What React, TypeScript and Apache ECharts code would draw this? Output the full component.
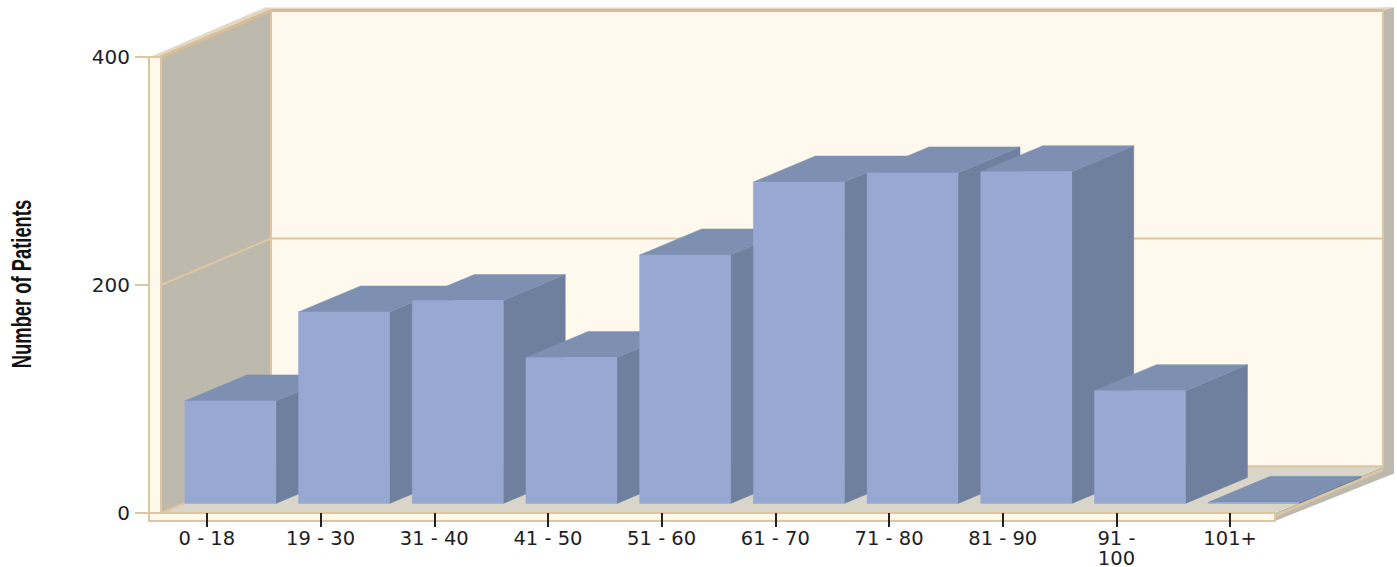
import React, { useEffect, useRef } from "react";
import * as echarts from "echarts";

const categories = ["0 - 18", "19 - 30", "31 - 40", "41 - 50", "51 - 60", "61 - 70", "71 - 80", "81 - 90", "91 -\n100", "101+"];
const patients = [90, 168, 178, 128, 218, 282, 290, 291, 99, 1];
const yTicks = [0, 200, 400];
const gridLineValues = [200];
const yAxisTitle = "Number of Patients";

const CREAM = "#fff8ec";
const TAN = "#dfc6a2";
const TAN_DARK = "#d8bd96";
const WALL = "#bdb9ad";
const FLOOR = "#d9d5c8";
const TOP_BAND = "#e3d8c6";
const FRONT = "#97a9d3";
const TOP = "#7d90b2";
const SIDE = "#6f7f9e";

// Pseudo-3D projection, in pixels
const WALL_DX = 110;
const WALL_DY = -46.5;
const BAR_OFFSET_X = 23.5;
const BAR_OFFSET_Y = -9.5;
const BAR_DX = 62;
const BAR_DY = -26;
const BAR_RATIO = 0.8;
const PLINTH = 11;
const PLINTH_H = 8;

function poly(points: number[][], fill: string, stroke?: string, lineWidth?: number) {
  return {
    type: "polygon",
    shape: { points },
    style: { fill, stroke: stroke || "none", lineWidth: lineWidth || 0 },
    silent: true,
  };
}
function line(points: number[][], stroke: string, lineWidth: number) {
  return {
    type: "polyline",
    shape: { points },
    style: { fill: "none", stroke, lineWidth },
    silent: true,
  };
}

function renderFrame(params: any, api: any) {
  const cs = params.coordSys;
  const L = cs.x + PLINTH;
  const B = api.coord([0, 0])[1];
  const T = api.coord([0, 400])[1];
  const R = cs.x + cs.width - 12;
  const bl = L + WALL_DX;
  const bb = B + WALL_DY;
  const bt = T + WALL_DY;
  const br = R + 108;
  const children: any[] = [
    // right edge + floor edge
    poly([[br, bt - 3], [br + 11, bt - 3], [br + 11, bb + 7], [R, B + PLINTH_H], [R, B], [br, bb]], WALL),
    // top band
    poly([[cs.x, T], [bl - 6, bt - 3], [br + 11, bt - 3], [br, bt], [bl, bt], [L, T]], TOP_BAND),
    // back wall
    { type: "rect", shape: { x: bl, y: bt, width: br - bl, height: bb - bt }, style: { fill: CREAM, stroke: TAN, lineWidth: 2 }, silent: true },
    // left wall
    poly([[L, T], [bl, bt], [bl, bb], [L, B]], WALL),
    // floor
    poly([[L, B], [bl, bb], [br, bb], [R, B]], FLOOR),
    line([[R, B + 3], [br, bb + 3]], TAN, 2.5),
    line([[bl, bb], [br, bb]], TAN, 2),
    line([[L, T], [bl, bt], [br, bt]], TAN_DARK, 3),
    line([[bl, bt], [bl, bb], [L, B]], TAN, 2),
    line([[br, bt], [br, bb]], TAN, 2),
  ];
  gridLineValues.forEach((v) => {
    const y = api.coord([0, v])[1];
    children.push(line([[L, y], [bl, y + WALL_DY], [br, y + WALL_DY]], TAN, 2));
  });
  // front plinth and left post
  children.push(
    { type: "rect", shape: { x: cs.x - 1, y: T, width: PLINTH + 1, height: B - T + PLINTH_H }, style: { fill: CREAM, stroke: TAN, lineWidth: 2 }, silent: true },
    { type: "rect", shape: { x: cs.x - 1, y: B, width: R - cs.x + 1, height: PLINTH_H }, style: { fill: CREAM, stroke: TAN, lineWidth: 2 }, silent: true }
  );
  return { type: "group", children };
}

function renderBar(params: any, api: any) {
  const idx = api.value(0);
  const top = api.coord([idx, api.value(1)]);
  const base = api.coord([idx, 0]);
  const w = api.size([1, 0])[0] * BAR_RATIO;
  const x0 = top[0] + BAR_OFFSET_X - w / 2;
  const x1 = x0 + w;
  const yT = top[1] + BAR_OFFSET_Y;
  const yB = base[1] + BAR_OFFSET_Y;
  return {
    type: "group",
    children: [
      poly([[x1, yT], [x1 + BAR_DX, yT + BAR_DY], [x1 + BAR_DX, yB + BAR_DY], [x1, yB]], SIDE, SIDE, 0.5),
      poly([[x0, yT], [x0 + BAR_DX, yT + BAR_DY], [x1 + BAR_DX, yT + BAR_DY], [x1, yT]], TOP, TOP, 0.5),
      poly([[x0, yT], [x1, yT], [x1, yB], [x0, yB]], FRONT, FRONT, 0.5),
    ],
  };
}

export default function App() {
  const ref = useRef<HTMLDivElement>(null);
  useEffect(() => {
    const chart = echarts.init(ref.current!, null, { renderer: "svg" });
    const labelFont = { fontFamily: "DejaVu Sans", color: "#1e1e26" };
    chart.setOption({
      animation: false,
      backgroundColor: "#ffffff",
      grid: { left: 150, top: 57, width: 1137, height: 456, containLabel: false, outerBoundsMode: "none" },
      xAxis: {
        type: "category",
        data: categories,
        z: 10,
        axisLine: { show: false },
        axisTick: { show: true, alignWithLabel: true, length: 14, inside: false, lineStyle: { color: "#222", width: 2 } },
        axisLabel: { ...labelFont, interval: 0, margin: 16, lineHeight: 19.5, fontSize: 19.5 },
        splitLine: { show: false },
      },
      yAxis: {
        type: "value",
        min: 0,
        max: 400,
        interval: 200,
        z: 10,
        axisLine: { show: false },
        axisTick: { show: true, length: 15, lineStyle: { color: TAN, width: 2 } },
        axisLabel: { ...labelFont, fontSize: 20, margin: 20, customValues: yTicks },
        splitLine: { show: false },
      },
      graphic: [
        {
          type: "text",
          x: 22,
          y: 284,
          rotation: Math.PI / 2,
          scaleX: 1.02,
          scaleY: 1.5,
          silent: true,
          style: {
            text: yAxisTitle,
            font: 'bold 18px "Liberation Sans"',
            fill: "#111",
            textAlign: "center",
            textVerticalAlign: "middle",
          },
        },
      ],
      series: [
        {
          type: "custom",
          name: "frame",
          coordinateSystem: "cartesian2d",
          renderItem: renderFrame,
          data: [[0, 0]],
          z: 1,
          silent: true,
          clip: false,
        },
        {
          type: "custom",
          name: "Number of Patients",
          coordinateSystem: "cartesian2d",
          renderItem: renderBar,
          encode: { x: 0, y: 1 },
          data: patients.map((v, i) => [i, v]),
          z: 2,
          silent: true,
          clip: false,
        },
      ],
    });
    return () => chart.dispose();
  }, []);
  return <div ref={ref} style={{ position: "absolute", left: 0, top: 0, width: 1397, height: 567 }} />;
}
